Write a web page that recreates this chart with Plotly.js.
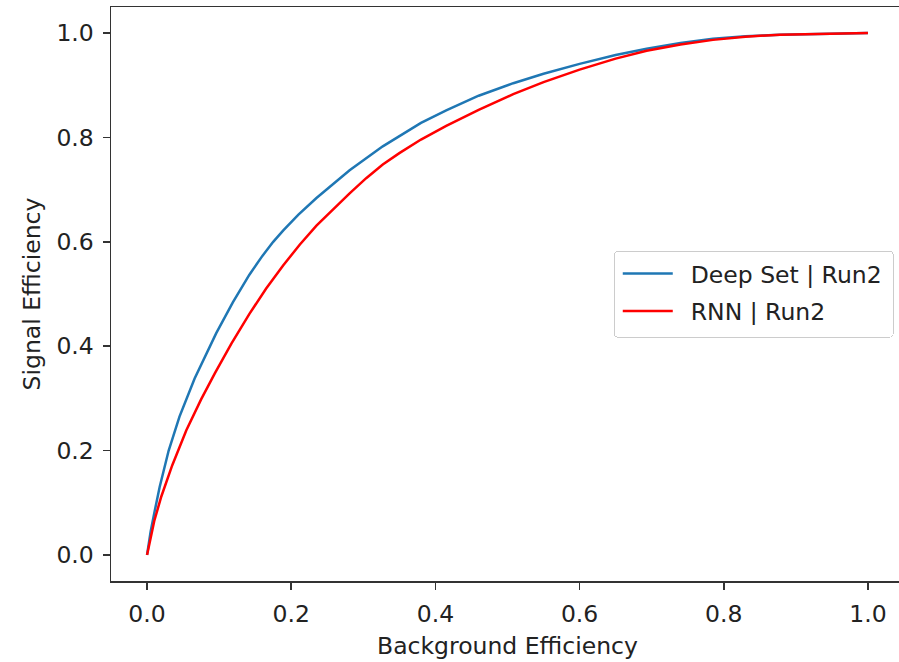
<!DOCTYPE html>
<html>
<head>
<meta charset="utf-8">
<script src="https://cdn.plot.ly/plotly-3.0.1.min.js"></script>
<style>
html,body{margin:0;padding:0;overflow:hidden;background:#fff;width:899px;height:662px;}
#chart{width:905px;height:662px;}
</style>
</head>
<body>
<div id="chart"></div>
<script>
const seriesNames = ["Deep Set | Run2", "RNN | Run2"];
const deepSetBkg = [0,0.005,0.01,0.0175,0.03,0.045,0.066,0.08,0.096,0.119,0.142,0.16,0.175,0.189,0.21,0.235,0.281,0.327,0.35,0.38,0.415,0.46,0.508,0.55,0.6,0.65,0.693,0.74,0.785,0.83,0.878,0.94,1.0];
const deepSetSig = [0,0.045,0.08,0.13,0.2,0.265,0.338,0.38,0.425,0.484,0.537,0.573,0.6,0.622,0.652,0.684,0.737,0.783,0.803,0.828,0.852,0.88,0.904,0.922,0.941,0.958,0.97,0.981,0.989,0.994,0.997,0.999,1.0];
const rnnBkg = [0,0.005,0.01,0.0198,0.035,0.0545,0.075,0.094,0.117,0.142,0.165,0.189,0.212,0.235,0.258,0.281,0.304,0.327,0.35,0.38,0.415,0.46,0.508,0.55,0.6,0.65,0.693,0.74,0.785,0.83,0.878,0.94,1.0];
const rnnSig = [0,0.035,0.065,0.112,0.172,0.239,0.298,0.348,0.405,0.462,0.51,0.555,0.595,0.631,0.663,0.693,0.722,0.748,0.77,0.796,0.822,0.853,0.883,0.906,0.93,0.951,0.966,0.978,0.987,0.993,0.997,0.999,1.0];
const tickVals = [0,0.2,0.4,0.6,0.8,1.0];
const tickText = ["0.0","0.2","0.4","0.6","0.8","1.0"];

const font = "DejaVu Sans, sans-serif";
const fs = 23.5;
const traces = [
  {x: deepSetBkg, y: deepSetSig, name: seriesNames[0], type: "scatter", mode: "lines",
   legendgroup: "a", line: {color: "#1f77b4", width: 2.5}},
  {x: rnnBkg, y: rnnSig, name: seriesNames[1], type: "scatter", mode: "lines",
   legendgroup: "b", line: {color: "#ff0000", width: 2.5}}
];
const axisCommon = {
  range: [-0.05, 1.05], tickmode: "array", tickvals: tickVals, ticktext: tickText,
  showgrid: false, zeroline: false, showline: true, mirror: true,
  linecolor: "#333", linewidth: 1.5, ticks: "outside", ticklen: 7, tickwidth: 1.5, tickcolor: "#333",
  ticklabelstandoff: 4,
  tickfont: {family: font, size: fs, color: "#222"}
};
const layout = {
  width: 905, height: 662,
  margin: {l: 111, r: 1, t: 7, b: 81},
  paper_bgcolor: "#fff", plot_bgcolor: "#fff",
  showlegend: true,
  legend: {x: 0.634, y: 0.5754, xanchor: "left", yanchor: "top",
    traceorder: "grouped", tracegroupgap: 4, itemwidth: 66,
    bordercolor: "#cccccc", borderwidth: 1, bgcolor: "#fff",
    font: {family: font, size: fs, color: "#222"}},
  xaxis: Object.assign({}, axisCommon, {title: {text: "Background Efficiency", font: {family: font, size: fs, color: "#222"}, standoff: 11}}),
  yaxis: Object.assign({}, axisCommon, {title: {text: "Signal Efficiency", font: {family: font, size: fs, color: "#222"}, standoff: 9}})
};
Plotly.newPlot("chart", traces, layout, {staticPlot: true, displayModeBar: false}).then(function(gd){
  gd.querySelectorAll(".legend .legendlines path").forEach(function(p){ p.setAttribute("d", "M8,0h50"); });
  var bg = gd.querySelector(".legend .bg");
  if (bg) { bg.setAttribute("height", 86); bg.setAttribute("width", 279); bg.setAttribute("rx", 4); bg.setAttribute("ry", 4); }
});
</script>
</body>
</html>
